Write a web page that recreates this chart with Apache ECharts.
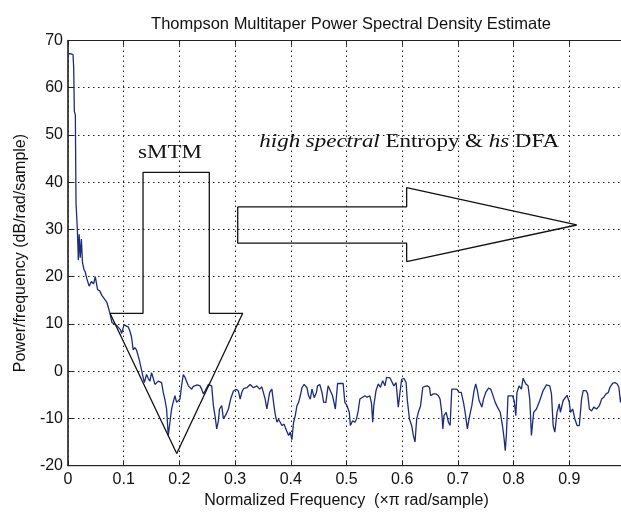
<!DOCTYPE html>
<html><head><meta charset="utf-8">
<script src="https://cdn.jsdelivr.net/npm/echarts@6/dist/echarts.min.js"></script>
<style>html,body{margin:0;padding:0;background:#fff}#c{width:621px;height:513px}</style>
</head><body><div id="c"></div>
<script>
// Normalized frequency (x pi rad/sample)
const freq = [0,0.004,0.009,0.0102,0.0114,0.0132,0.0144,0.0168,0.0186,0.020,0.022,0.024,0.026,0.0287,0.031,0.034,0.038,0.042,0.046,0.049,0.053,0.057,0.061,0.066,0.070,0.075,
0.079,0.084,0.088,0.0907,0.094,0.0964,0.1005,0.104,0.108,0.111,0.114,0.117,0.120,0.123,0.128,0.132,0.137,0.141,0.144,0.147,0.150,0.153,0.156,0.162,0.168,0.171,0.174,0.177,0.180,0.183,0.186,0.189,0.192,0.195,0.198,0.201,0.204,0.207,0.210,0.212,0.216,0.222,0.225,0.228,0.232,0.237,0.240,0.243,0.246,0.249,0.252,0.255,0.258,0.261,0.264,0.267,0.270,0.272,0.276,0.279,0.284,0.288,0.292,0.297,0.302,0.306,0.309,0.312,0.315,0.321,0.327,0.333,0.339,0.344,0.348,0.354,0.357,0.362,0.366,0.369,0.372,0.375,0.378,0.381,0.384,0.388,0.391,0.396,0.399,0.402,0.405,0.408,0.411,0.414,0.417,0.420,0.424,0.429,0.432,0.435,0.438,0.442,0.446,0.448,0.452,0.456,0.459,0.463,0.467,0.470,0.475,0.480,0.484,0.488,0.491,0.494,0.497,0.501,0.505,0.507,0.511,0.515,0.518,0.521,0.524,0.529,0.533,0.537,0.542,0.545,0.547,0.549,0.553,0.557,0.561,0.565,0.569,0.572,0.575,0.578,0.581,0.585,0.589,0.593,0.596,0.599,0.603,0.607,0.609,0.613,0.617,0.620,0.623,0.626,0.629,0.633,0.637,0.641,0.645,0.649,0.651,0.656,0.661,0.665,0.668,0.671,0.673,0.675,0.679,0.683,0.686,0.689,0.692,0.698,0.702,0.706,0.710,0.713,0.717,0.720,0.725,0.729,0.732,0.735,0.738,0.743,0.746,0.750,0.755,0.759,0.762,0.767,0.771,0.776,0.780,0.783,0.785,0.787,0.790,0.793,0.798,0.801,0.804,0.806,0.810,0.814,0.817,0.822,0.826,0.829,0.832,0.836,0.841,0.847,0.853,0.859,0.865,0.868,0.871,0.874,0.878,0.882,0.884,0.889,0.892,0.896,0.900,0.902,0.906,0.910,0.914,0.918,0.922,0.925,0.930,0.933,0.936,0.940,0.944,0.949,0.954,0.958,0.962,0.966,0.970,0.973,0.978,0.982,0.986,0.989,0.992,0.996,1.0];
// Power/frequency (dB/rad/sample)
const psd = [67.2,67.2,67.0,64.4,55.0,54.2,35.6,30.0,23.5,29.0,24.0,28.0,23.0,21.5,21.0,19.5,18.0,19.0,18.5,20.0,17.3,17.0,16.0,15.2,14.5,12.4,
10.3,10.0,9.6,9.8,8.8,8.0,9.8,9.6,9.4,8.5,7.3,4.5,5.0,4.5,2.4,0.3,-2.4,-0.7,-1.5,-2.1,-0.3,-1.5,-2.8,-2.1,-2.4,-4.5,-6.0,-8.0,-13.6,-10.8,-8.0,-6.5,-5.2,-6.6,-6.6,-5.9,-3.0,-0.7,-1.3,-1.7,-3.1,-3.8,-3.2,-3.5,-2.9,-3.1,-3.8,-4.8,-4.2,-3.8,-2.8,-2.4,-3.1,-7.3,-9.5,-12.2,-10.5,-8.0,-7.3,-10.1,-9.1,-8.0,-5.9,-4.2,-3.8,-4.2,-5.9,-4.5,-3.7,-3.5,-2.8,-3.5,-3.1,-3.8,-3.3,-5.9,-8.0,-4.5,-3.8,-6.6,-9.1,-10.8,-10.2,-10.8,-11.5,-11.2,-12.2,-13.6,-12.9,-14.5,-10.8,-9.4,-7.3,-6.6,-5.2,-3.5,-2.8,-3.5,-5.2,-5.9,-3.8,-5.6,-4.5,-3.1,-2.8,-4.5,-6.6,-6.6,-3.1,-2.8,-5.2,-8.0,-2.6,-2.6,-2.4,-2.6,-6.6,-7.3,-8.7,-11.5,-10.5,-10.8,-10.1,-8.4,-5.9,-5.5,-5.2,-5.5,-5.2,-6.9,-10.8,-7.3,-4.1,-2.7,-3.4,-2.0,-3.1,-1.3,-1.7,-1.4,-1.8,-3.1,-2.4,-7.6,-4.5,-1.7,-1.5,-2.4,-5.9,-10.1,-11.5,-13.6,-15.0,-10.1,-8.7,-7.3,-3.4,-3.2,-3.1,-3.4,-5.2,-4.8,-4.8,-5.2,-5.9,-8.7,-12.2,-9.4,-8.7,-10.8,-11.5,-3.8,-3.8,-3.8,-4.5,-4.5,-6.6,-8.7,-12.2,-10.1,-7.3,-4.1,-2.7,-4.1,-6.2,-7.6,-5.9,-4.5,-3.6,-3.8,-4.8,-6.6,-7.6,-8.7,-11.5,-14.3,-16.8,-13.6,-5.2,-4.8,-5.2,-6.2,-9.4,-4.5,-3.1,-3.8,-1.5,-2.7,-3.1,-5.9,-13.6,-8.7,-8.0,-6.2,-4.1,-2.9,-3.1,-4.8,-11.5,-12.9,-8.7,-6.9,-8.7,-6.2,-5.9,-5.1,-6.6,-8.7,-8.0,-10.1,-11.5,-11.5,-5.9,-4.1,-4.1,-4.8,-8.0,-8.4,-7.6,-8.0,-7.3,-5.9,-5.5,-4.8,-4.5,-3.4,-2.5,-2.4,-2.7,-3.4,-6.6,-4.0,-3.0];

// Annotation outlines (data coordinates)
const downArrowF = [0.0754,0.1347,0.1347,0.2537,0.2537,0.3136,0.1952,0.0754];
const downArrowV = [12.26,12.26,42.1,42.1,12.26,12.26,-17.4,12.26];
const rightArrowF = [0.3047,0.608,0.608,0.9133,0.608,0.608,0.3047,0.3047];
const rightArrowV = [34.8,34.8,38.85,30.95,23.2,27.1,27.1,34.8];
const smtmLabel = 'sMTM';
const smtmAnchor = [0.183, 46.1];
const entropyParts = [['i','high spectral'],['n',' Entropy & '],['i','hs'],['n',' DFA']];
const entropyAnchor = [0.6125, 48.45];

const titleText = 'Thompson Multitaper Power Spectral Density Estimate';
const xName = 'Normalized Frequency  (\u00d7\u03c0 rad/sample)';
const yName = 'Power/frequency (dB/rad/sample)';
const xMin = 0, xMax = 1, xStep = 0.1;
const yMin = -20, yMax = 70, yStep = 10;

const zip = (a, b) => a.map((v, i) => [v, b[i]]);
const sans = "'Liberation Sans', Arial, sans-serif";
const grid = {type: [1.5, 3.5], color: '#222', width: 1};

const chart = echarts.init(document.getElementById('c'), null, {renderer: 'canvas'});
chart.setOption({
  animation: false,
  backgroundColor: '#fff',
  title: {text: titleText, left: 346, top: 11, textAlign: 'center',
    textStyle: {fontFamily: sans, fontSize: 16.5, fontWeight: 'normal', color: '#111'}},
  grid: {left: 68, top: 40.5, right: -4, bottom: 47.3, containLabel: false, outerBoundsMode: 'none',
    show: true, borderColor: '#222', borderWidth: 1},
  xAxis: [{
    type: 'value', min: xMin, max: xMax, interval: xStep, position: 'bottom',
    name: xName, nameLocation: 'middle', nameGap: 25,
    nameTextStyle: {fontFamily: sans, fontSize: 16, color: '#111'},
    axisLine: {onZero: false, lineStyle: {color: '#222', width: 1.2}},
    axisTick: {inside: true, length: 5, lineStyle: {color: '#222'}},
    axisLabel: {fontFamily: sans, fontSize: 16, color: '#111', margin: 6},
    splitLine: {show: true, lineStyle: grid}
  }, {
    type: 'value', min: xMin, max: xMax, interval: xStep, position: 'top',
    axisLine: {onZero: false, lineStyle: {color: '#222', width: 1}},
    axisTick: {inside: true, length: 5, lineStyle: {color: '#222'}},
    axisLabel: {show: false}, splitLine: {show: false}
  }],
  yAxis: {
    type: 'value', min: yMin, max: yMax, interval: yStep,
    name: yName, nameLocation: 'middle', nameGap: 37,
    nameTextStyle: {fontFamily: sans, fontSize: 16, color: '#111'},
    axisLine: {show: true, onZero: false, lineStyle: {color: '#333', width: 1.5}},
    axisTick: {show: true, inside: true, length: 5, lineStyle: {color: '#222'}},
    axisLabel: {fontFamily: sans, fontSize: 16, color: '#111', margin: 5},
    splitLine: {show: true, lineStyle: grid}
  },
  series: [{
    type: 'line', data: zip(freq, psd), showSymbol: false, symbol: 'none',
    lineStyle: {color: '#1c2a80', width: 1.3}, silent: true, z: 3
  }, {
    type: 'line', data: zip(downArrowF, downArrowV), symbol: 'none',
    lineStyle: {color: '#111', width: 1.3}, silent: true, z: 4
  }, {
    type: 'line', data: zip(rightArrowF, rightArrowV), symbol: 'none',
    lineStyle: {color: '#111', width: 1.3}, silent: true, z: 4
  }]
});

const serif = "'Liberation Serif', 'Times New Roman', serif";
const p1 = chart.convertToPixel({xAxisIndex: 0, yAxisIndex: 0}, smtmAnchor);
const p2 = chart.convertToPixel({xAxisIndex: 0, yAxisIndex: 0}, entropyAnchor);
const fs = 18.5;
chart.setOption({
  graphic: [{
    type: 'text', x: p1[0], y: p1[1], scaleX: 1.24, z: 10, silent: true,
    style: {text: smtmLabel, align: 'center', verticalAlign: 'middle',
      font: fs + 'px ' + serif, fill: '#111'}
  }, {
    type: 'text', x: p2[0], y: p2[1], scaleX: 1.24, z: 10, silent: true,
    style: {
      text: entropyParts.map(p => '{' + p[0] + '|' + p[1] + '}').join(''),
      align: 'center', verticalAlign: 'middle', fill: '#111',
      font: fs + 'px ' + serif,
      rich: {
        i: {fontStyle: 'italic', fontSize: fs, fontFamily: serif, fill: '#111'},
        n: {fontStyle: 'normal', fontSize: fs, fontFamily: serif, fill: '#111'}
      }
    }
  }]
});
</script>
</body></html>
